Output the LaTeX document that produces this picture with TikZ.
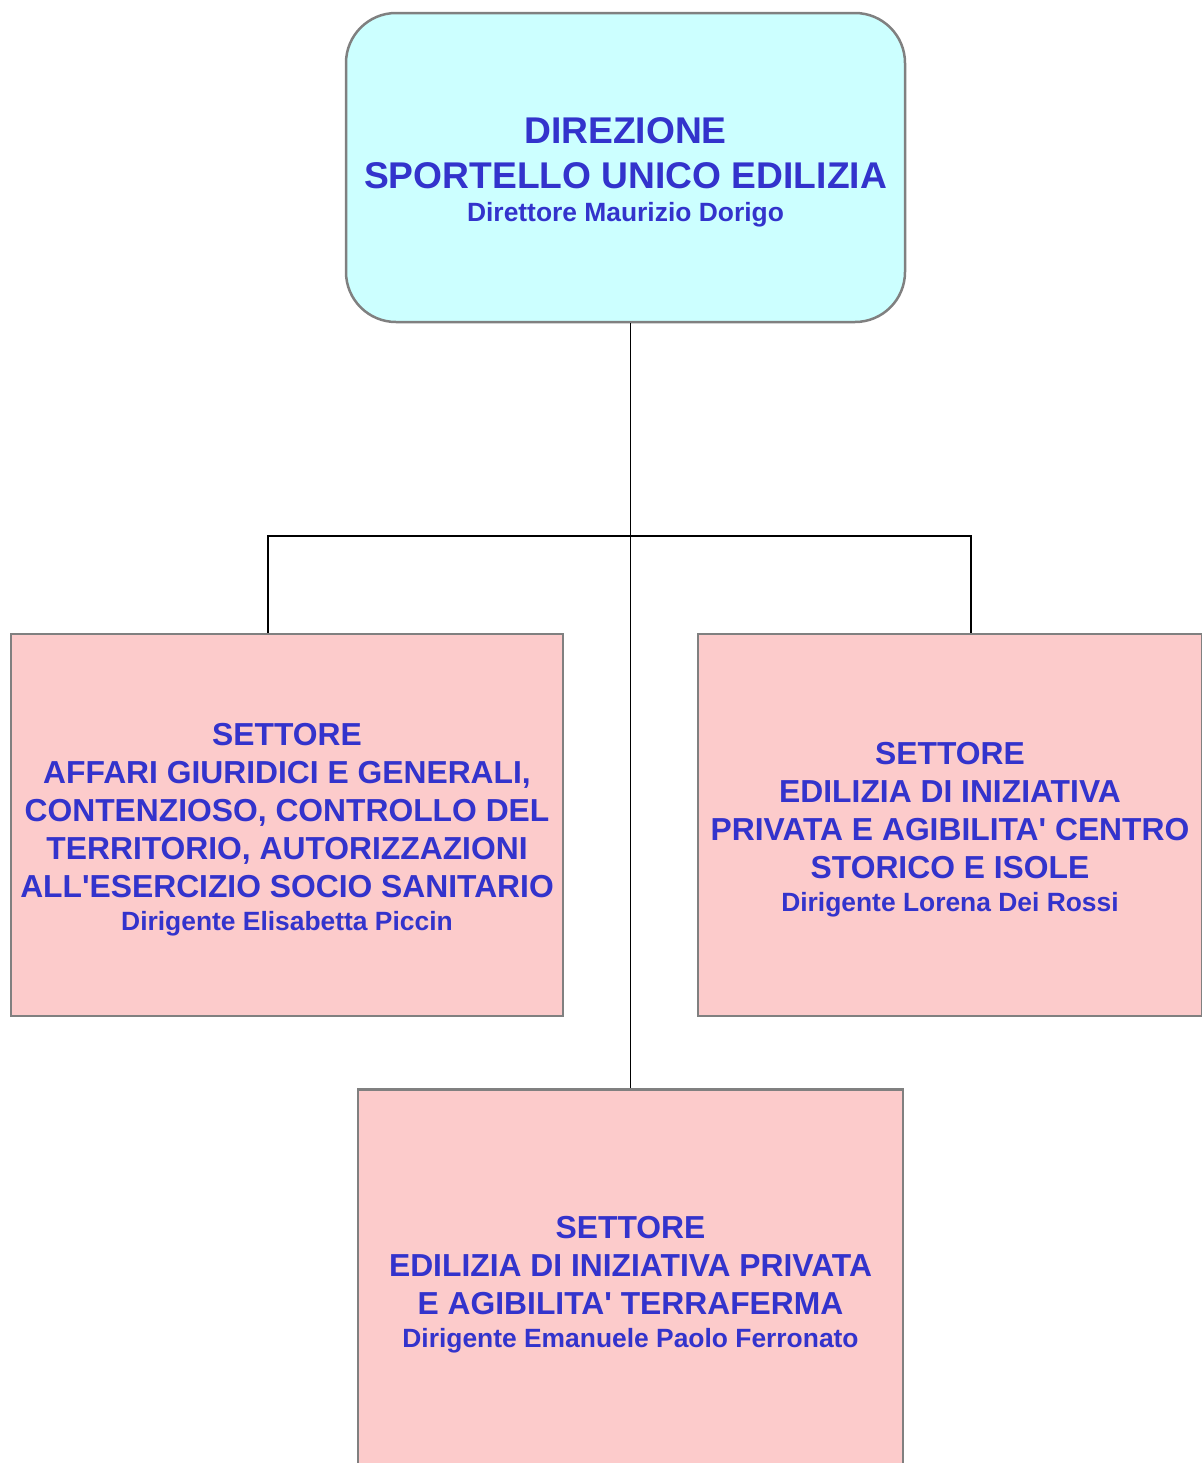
\documentclass[tikz,border=0pt]{standalone}
\usepackage{fontspec}
\newfontfamily\orgfont{Liberation Sans}
\usepackage{tikz}
\usetikzlibrary{calc}
\definecolor{direzione}{RGB}{204,255,255}
\definecolor{settore}{RGB}{252,203,203}
\definecolor{scritta}{RGB}{51,51,204}
\definecolor{bordo}{RGB}{128,128,128}
\newcommand{\grande}{\fontsize{18.6}{22.5}\selectfont}
\newcommand{\medio}{\fontsize{15.9}{19}\selectfont}
\newcommand{\piccolo}{\fontsize{13.2}{16.5}\selectfont}

\begin{document}
\begin{tikzpicture}[x=0.5pt,y=-0.5pt,
    ufficio/.style={draw=bordo, line width=1.25pt, inner sep=0pt},
    settorebox/.style={ufficio, fill=settore, minimum height=191pt},
    testo/.style={align=center, text=scritta, inner sep=0pt,
        font=\orgfont\bfseries\medio},
    link/.style={black, line width=0.9pt}]
    %% Background
    \useasboundingbox (0,0) rectangle (1202,1463);
    %% Direzione
    \node[ufficio, fill=direzione, rounded corners=25pt, minimum width=279.5pt,
        minimum height=154.5pt] (dir) at (625.5,167.5) {};
    \node[testo, font=\orgfont\bfseries\grande] (dirT) at ([yshift=-2.5pt]dir.center)
        {DIREZIONE\\ SPORTELLO UNICO EDILIZIA\\[-6pt]
         \piccolo Direttore Maurizio Dorigo};
    %% Settori
    \node[settorebox, minimum width=276pt] (affari) at (287,825) {};
    \node[testo] (affariT) at ([yshift=-2.5pt]affari.center)
        {SETTORE\\ AFFARI GIURIDICI E GENERALI,\\
         CONTENZIOSO, CONTROLLO DEL\\ TERRITORIO, AUTORIZZAZIONI\\
         ALL'ESERCIZIO SOCIO SANITARIO\\[-2.5pt]
         \piccolo Dirigente Elisabetta Piccin};
    \node[settorebox, minimum width=252pt] (centro) at (950,825) {};
    \node[testo] (centroT) at ([yshift=-2.5pt]centro.center)
        {SETTORE\\ EDILIZIA DI INIZIATIVA\\
         PRIVATA E AGIBILITA' CENTRO\\ STORICO E ISOLE\\[-2.5pt]
         \piccolo Dirigente Lorena Dei Rossi};
    \node[settorebox, minimum width=272.5pt, minimum height=194pt, anchor=north]
        (terra) at (630.5,1088) {};
    \node[testo] (terraT) at ([yshift=-0.5pt]terra.center)
        {SETTORE\\ EDILIZIA DI INIZIATIVA PRIVATA\\
         E AGIBILITA' TERRAFERMA\\[-2.5pt]
         \piccolo Dirigente Emanuele Paolo Ferronato};
    %% Collegamenti
    \coordinate (nodoL) at (268,536);
    \coordinate (nodoR) at (971,536);
    \draw[link] (terra.north) -- (terra.north |- dir.south);
    \draw[link] (nodoL |- affari.north) -- (nodoL) -- (nodoR) -- (nodoR |- centro.north);
\end{tikzpicture}
\end{document}
